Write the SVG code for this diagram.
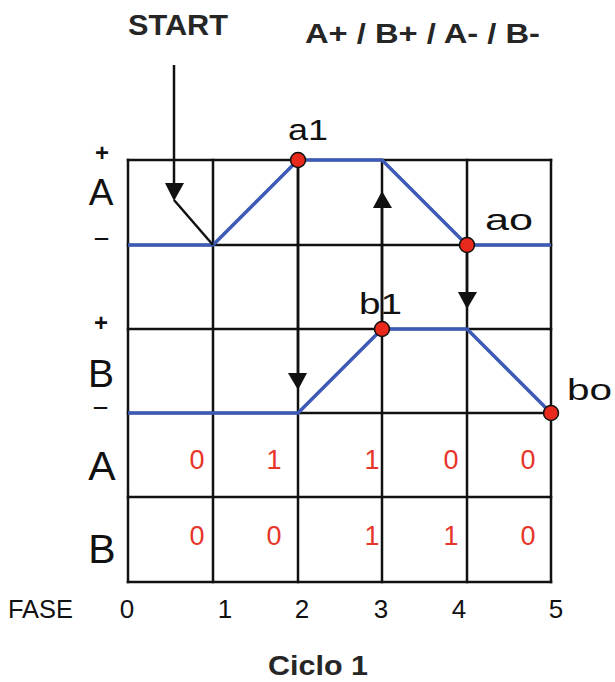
<svg xmlns="http://www.w3.org/2000/svg" width="615" height="682" viewBox="0 0 615 682">
<style>
.grid{stroke:#111;stroke-width:2.5;fill:none;stroke-linecap:square}
.sig{stroke:#3d5bb5;stroke-width:3.5;fill:none;stroke-linejoin:round}
.con{stroke:#111;stroke-width:2.5;fill:none}
.head{fill:#111}
.dot{fill:#e8291c;stroke:#111;stroke-width:1.5}
.lbl{font-family:"Liberation Sans",Arial,sans-serif;fill:#111}
.hd{font-family:"Liberation Sans",Arial,sans-serif;font-weight:bold;fill:#262626}
.val{font-family:"Liberation Sans",Arial,sans-serif;font-size:27px;fill:#e8352a;text-anchor:middle}
.ph{font-family:"Liberation Sans",Arial,sans-serif;font-size:26px;fill:#111;text-anchor:middle}
.sg{font-family:"Liberation Sans",Arial,sans-serif;font-size:24px;font-weight:bold;fill:#111;text-anchor:middle}
.dash{font-family:"Liberation Sans",Arial,sans-serif;font-size:21px;font-weight:bold;fill:#111}
</style>
<rect width="615" height="682" fill="#fff"/>

<g id="titles">
<text class="hd" x="128" y="35" font-size="30" textLength="100" lengthAdjust="spacingAndGlyphs">START</text>
<text class="hd" x="305" y="43" font-size="27" textLength="235" lengthAdjust="spacingAndGlyphs">A+ / B+ / A- / B-</text>
<text class="hd" x="268" y="675" font-size="28" textLength="100" lengthAdjust="spacingAndGlyphs">Ciclo 1</text>
</g>

<g id="grid">
<path class="grid" d="M128,160V582M213,160V582M298,160V582M382,160V582M467,160V582M551,160V582"/>
<path class="grid" d="M128,160H551M128,245H551M128,329H551M128,413H551M128,497H551M128,582H551"/>
</g>

<g id="axis-labels">
<text class="sg" x="102" y="161">+</text>
<text class="lbl" x="101" y="205" font-size="37" text-anchor="middle">A</text>
<text class="dash" x="94" y="244" textLength="15" lengthAdjust="spacingAndGlyphs">–</text>
<text class="sg" x="101" y="331">+</text>
<text class="lbl" x="101" y="387" font-size="39" text-anchor="middle">B</text>
<text class="dash" x="93" y="413" textLength="15" lengthAdjust="spacingAndGlyphs">–</text>
<text class="lbl" x="102" y="480" font-size="41" text-anchor="middle">A</text>
<text class="lbl" x="102" y="563" font-size="41" text-anchor="middle">B</text>
<text class="lbl" x="8" y="618" font-size="26" textLength="65" lengthAdjust="spacingAndGlyphs">FASE</text>
<text class="ph" x="127" y="618">0</text>
<text class="ph" x="225" y="618">1</text>
<text class="ph" x="302" y="618">2</text>
<text class="ph" x="381" y="618">3</text>
<text class="ph" x="459" y="618">4</text>
<text class="ph" x="556" y="618">5</text>
</g>

<g id="table-values">
<text class="val" x="197" y="469">0</text>
<text class="val" x="274" y="469">1</text>
<text class="val" x="372" y="469">1</text>
<text class="val" x="451" y="469">0</text>
<text class="val" x="528" y="469">0</text>
<text class="val" x="197" y="545">0</text>
<text class="val" x="274" y="545">0</text>
<text class="val" x="372" y="545">1</text>
<text class="val" x="451" y="545">1</text>
<text class="val" x="528" y="545">0</text>
</g>

<g id="signal-A">
<polyline class="sig" points="128,245 213,245 298,160 382,160 467,245 551,245"/>
</g>
<g id="signal-B">
<polyline class="sig" points="128,413 298,413 382,329 467,329 551,413"/>
</g>

<g id="connectors">
<line class="con" x1="174" y1="65" x2="174" y2="190"/>
<polygon class="head" points="165,183 184,183 174,201"/>
<line class="con" x1="174" y1="200" x2="213" y2="245"/>
<line class="con" x1="298" y1="160" x2="298" y2="380"/>
<polygon class="head" points="288,373 307,373 298,390"/>
<line class="con" x1="382" y1="329" x2="382" y2="200"/>
<polygon class="head" points="373,208 392,208 382,191"/>
<line class="con" x1="467" y1="245" x2="467" y2="300"/>
<polygon class="head" points="458,292 477,292 467,309"/>
</g>

<g id="a1">
<circle class="dot" cx="298" cy="160" r="7.5"/>
<text class="lbl" x="288" y="140" font-size="30" textLength="40" lengthAdjust="spacingAndGlyphs">a1</text>
</g>
<g id="ao">
<circle class="dot" cx="467" cy="245" r="7.5"/>
<text class="lbl" x="485" y="230" font-size="30" textLength="48" lengthAdjust="spacingAndGlyphs">ao</text>
</g>
<g id="b1">
<circle class="dot" cx="382" cy="329" r="7.5"/>
<text class="lbl" x="359" y="314" font-size="30" textLength="43" lengthAdjust="spacingAndGlyphs">b1</text>
</g>
<g id="bo">
<circle class="dot" cx="551" cy="413" r="7.5"/>
<text class="lbl" x="567" y="400" font-size="30" textLength="45" lengthAdjust="spacingAndGlyphs">bo</text>
</g>
</svg>
